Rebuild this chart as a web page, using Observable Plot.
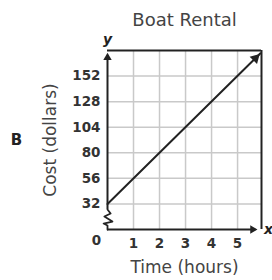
<!DOCTYPE html>
<html>
<head>
<meta charset="utf-8">
<script src="https://cdn.jsdelivr.net/npm/d3@7"></script>
<script src="https://cdn.jsdelivr.net/npm/@observablehq/plot@0.6"></script>
<style>
  html, body { margin: 0; padding: 0; background: #fff; }
</style>
</head>
<body>
<div id="chart"></div>
<script>
// ---- data ----
const hours = [0, 5.88];          // line start / arrow tip (hours)
const cost = [32, 173.4];         // cost in dollars
const xTicks = [1, 2, 3, 4, 5];
const yTicks = [32, 56, 80, 104, 128, 152];
const xZero = [0];
const xDomain = [0, 5.92];
const yDomain = [8, 176];         // axis drawn at 8 but labelled 0 (broken axis)
// axis-break zigzag on the y axis (data units)
const breakX = [0, 0, -0.15, 0.19, -0.12, 0.12, 0, 0];
const breakY = [8, 11.8, 13.6, 15.5, 20.2, 23.0, 26.8, 26.8];

const linePts = hours.map((h, i) => ({h, c: cost[i]}));
const breakPts = breakX.map((x, i) => ({x, y: breakY[i]}));
const tip = linePts[linePts.length - 1];

const ink = "#222";
const grid = "#c9c9c9";

const chart = Plot.plot({
  width: 272,
  height: 280,
  marginLeft: 107,
  marginRight: 11,
  marginTop: 50,
  marginBottom: 51,
  style: {fontFamily: "'DejaVu Sans', Verdana, sans-serif", background: "#fff", color: "#333"},
  x: {domain: xDomain},
  y: {domain: yDomain},
  marks: [
    // grid
    Plot.ruleX(xTicks, {stroke: grid, strokeWidth: 1.5}),
    Plot.ruleY(yTicks, {stroke: grid, strokeWidth: 1.5}),
    // frame top & right
    Plot.ruleY([yDomain[1]], {stroke: ink, strokeWidth: 2}),
    Plot.ruleX([xDomain[1]], {stroke: ink, strokeWidth: 2}),
    // x axis line
    Plot.ruleY([yDomain[0]], {x1: 0, x2: 5.7, stroke: ink, strokeWidth: 2}),
    Plot.dot([{x: 5.81, y: yDomain[0]}], {x: "x", y: "y", symbol: "triangle2", r: 4, rotate: 90, dx: -6, fill: ink}),
    // y axis line with break
    Plot.line(breakPts, {x: "x", y: "y", stroke: ink, strokeWidth: 1.8, curve: "linear"}),
    Plot.ruleX([0], {y1: 26.8, y2: 170, stroke: ink, strokeWidth: 2}),
    Plot.dot([{x: 0, y: yDomain[1]}], {x: "x", y: "y", symbol: "triangle2", r: 4, dy: 7, fill: ink}),
    // data line with arrow
    Plot.line(linePts, {x: "h", y: "c", stroke: ink, strokeWidth: 2}),
    Plot.dot([tip], {x: "h", y: "c", symbol: "triangle2", r: 5, rotate: 45, dx: -5, dy: 5, fill: ink}),
    // axes
    Plot.axisY(yTicks, {tickSize: 0, tickPadding: 7, fontSize: 13.5, fontWeight: "bold", fill: "#333", label: null}),
    Plot.axisX(xTicks, {tickSize: 0, tickPadding: 9, fontSize: 13.5, fontWeight: "bold", fill: "#333", label: null}),
    Plot.text(xZero, {x: d => d, frameAnchor: "bottom", dx: -11, dy: 15, text: d => String(d), fontSize: 13.5, fontWeight: "bold", fill: "#333"}),
    // labels
    Plot.text(["Boat Rental"], {frameAnchor: "top", lineAnchor: "middle", dy: -30, fontSize: 18, fill: "#444"}),
    Plot.text(["y"], {frameAnchor: "top-left", textAnchor: "middle", lineAnchor: "middle", dy: -11, fontSize: 14, fontWeight: "bold", fontStyle: "italic", fill: "#222"}),
    Plot.text(["x"], {frameAnchor: "bottom-right", textAnchor: "middle", lineAnchor: "middle", dx: 7, dy: 0, fontSize: 14, fontWeight: "bold", fontStyle: "italic", fill: "#222"}),
    Plot.text(["B"], {frameAnchor: "left", textAnchor: "middle", dx: -91, fontSize: 15, fontWeight: "bold", fill: "#222"}),
    Plot.text(["Cost (dollars)"], {frameAnchor: "left", textAnchor: "middle", dx: -57, rotate: -90, fontSize: 17, fill: "#444"}),
    Plot.text(["Time (hours)"], {frameAnchor: "bottom", lineAnchor: "middle", dy: 38, fontSize: 17, fill: "#444"})
  ]
});
document.getElementById("chart").appendChild(chart);
</script>
</body>
</html>
